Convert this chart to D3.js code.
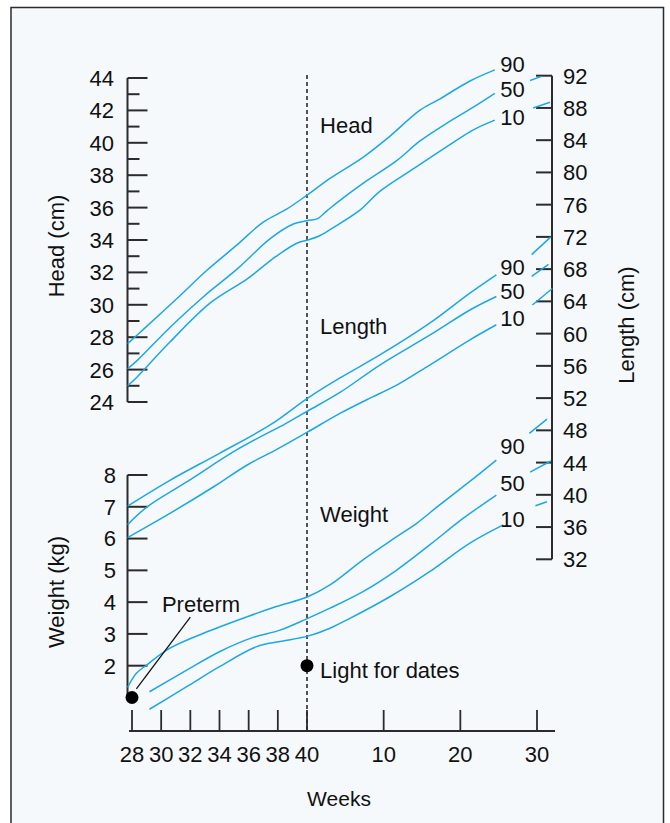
<!DOCTYPE html>
<html>
<head>
<meta charset="utf-8">
<script src="https://cdn.jsdelivr.net/npm/d3@7"></script>
<style>
  body { margin: 0; background: #ffffff; }
  text { font-family: "Liberation Sans", Arial, sans-serif; fill: #111111; }
</style>
</head>
<body>
<div id="chart"></div>
<script>
// week axis: 28..40 gestation, then 10/20/30 weeks after term (stored as 40 + n)
var weekTicks = [28, 30, 32, 34, 36, 38, 40, 50, 60, 70];
var weekLabels = ["28", "30", "32", "34", "36", "38", "40", "10", "20", "30"];
var headTicks = [24, 26, 28, 30, 32, 34, 36, 38, 40, 42, 44];
var headMinor = [25, 27, 29, 31, 33, 35, 37, 39, 41, 43];
var lengthTicks = [32, 36, 40, 44, 48, 52, 56, 60, 64, 68, 72, 76, 80, 84, 88, 92];
var weightTicks = [2, 3, 4, 5, 6, 7, 8];
var percentiles = ["90", "50", "10"];

// [week, cm]
var head90 = [[27.7, 27.6], [28.8, 28.5], [31.1, 30.4], [33.1, 32.1], [35.2, 33.7], [37.0, 35.1], [38.6, 35.9], [40.1, 36.8], [43.0, 37.8], [47.3, 39.1], [50.8, 40.4], [54.7, 42.0], [57.3, 42.7], [61.2, 43.8], [64.5, 44.5]];
var head50 = [[27.7, 26.05], [28.4, 26.6], [30.6, 28.6], [32.9, 30.5], [35.2, 32.2], [37.5, 34.1], [39.1, 35.0], [40.1, 35.2], [41.3, 35.3], [42.6, 35.8], [44.3, 36.45], [47.3, 37.5], [51.7, 38.9], [54.7, 40.1], [58.2, 41.2], [61.7, 42.2], [64.5, 43.05], [69.1, 43.85], [70.6, 44.1]];
var head10 = [[27.7, 25.0], [28.3, 25.5], [30.6, 27.7], [33.35, 30.1], [35.9, 31.6], [37.9, 33.0], [39.3, 33.8], [40.1, 34.0], [41.5, 34.23], [43.0, 34.64], [46.9, 35.84], [49.5, 37.0], [53.9, 38.4], [58.2, 39.75], [61.7, 40.8], [64.5, 41.4], [69.5, 42.15], [71.7, 42.5]];

var length90 = [[27.7, 38.6], [30.6, 41.8], [34.0, 45.15], [37.5, 48.7], [40.1, 52.0], [44.3, 54.5], [49.5, 57.35], [56.0, 61.3], [61.2, 65.0], [64.7, 67.3], [69.3, 69.8], [71.8, 72.0]];
var length50 = [[27.7, 36.3], [29.0, 38.45], [31.75, 41.6], [35.2, 45.6], [38.6, 48.9], [40.1, 50.4], [44.3, 52.7], [49.5, 56.1], [56.0, 59.8], [61.2, 62.9], [64.7, 64.6], [69.3, 67.1], [71.5, 68.6]];
var length10 = [[27.7, 34.7], [30.6, 37.7], [33.6, 41.0], [35.9, 43.7], [37.9, 45.6], [40.1, 47.8], [44.3, 50.1], [47.8, 51.8], [51.7, 53.6], [56.0, 56.1], [61.2, 59.2], [64.7, 61.1], [69.4, 63.55], [72.0, 65.6]];

// [week, kg]
var weight90 = [[27.7, 1.32], [28.3, 1.76], [29.0, 2.02], [30.6, 2.55], [32.9, 3.02], [35.9, 3.54], [37.9, 3.86], [40.1, 4.17], [43.0, 4.54], [47.3, 5.33], [51.7, 6.06], [54.3, 6.48], [57.3, 7.06], [61.2, 7.79], [64.7, 8.47], [69.0, 9.31], [71.3, 9.76]];
var weight50 = [[29.2, 1.18], [31.75, 1.86], [34.0, 2.44], [36.3, 2.89], [38.15, 3.12], [40.1, 3.49], [43.0, 3.81], [47.3, 4.33], [51.7, 5.01], [56.0, 5.80], [60.4, 6.64], [64.7, 7.37], [69.1, 8.09], [71.8, 8.44]];
var weight10 = [[29.2, 0.63], [31.75, 1.34], [34.0, 1.97], [36.55, 2.60], [38.15, 2.76], [40.1, 2.93], [43.0, 3.18], [45.6, 3.49], [50.8, 4.17], [56.0, 4.96], [61.2, 5.85], [65.6, 6.43], [69.8, 7.03], [71.3, 7.16]];

// percentile label values at the right end (week 66.8)
var headLabelVals = [44.87, 43.3, 41.6];
var lengthLabelVals = [68.3, 65.33, 61.9];
var weightLabelVals = [8.91, 7.76, 6.61];

// marked babies: [week, kg]
var preterm = [28, 1.0];
var lightForDates = [40, 2.0];
var pretermPointer = [[28.3, 1.27], [32.0, 3.53]];

var width = 670, height = 823;
var ink = "#2b2b2b", blue = "#1ea7e1", bg = "#f5f9fc";
var fs = "22px";

var svg = d3.select("#chart").append("svg")
  .attr("width", width).attr("height", height);

// frame
svg.append("rect")
  .attr("x", 11).attr("y", 7.5).attr("width", 652.5).attr("height", 830)
  .attr("fill", bg).attr("stroke", ink).attr("stroke-width", 1.5);

var x = d3.scaleLinear().domain([28, 40, 70]).range([132, 307, 537]);
var yHead = d3.scaleLinear().domain([24, 44]).range([402, 78]);
var yLen = d3.scaleLinear().domain([32, 92]).range([559.3, 75.7]);
var yW = d3.scaleLinear().domain([2, 8]).range([665.7, 475]);

var leftX = 127.5, rightX = 552, baseY = 731;

// dashed term line
svg.append("line")
  .attr("x1", x(40)).attr("x2", x(40))
  .attr("y1", 75).attr("y2", baseY)
  .attr("stroke", ink).attr("stroke-width", 1.6)
  .attr("stroke-dasharray", "4,3");

// head axis
var headAxis = svg.append("g");
headAxis.append("line")
  .attr("x1", leftX).attr("x2", leftX)
  .attr("y1", yHead(44)).attr("y2", yHead(24))
  .attr("stroke", ink).attr("stroke-width", 2);
headAxis.selectAll(".maj").data(headTicks).enter().append("line")
  .attr("x1", leftX).attr("x2", leftX + 20)
  .attr("y1", (d) => yHead(d)).attr("y2", (d) => yHead(d))
  .attr("stroke", ink).attr("stroke-width", 2);
headAxis.selectAll(".min").data(headMinor).enter().append("line")
  .attr("x1", leftX).attr("x2", leftX + 12)
  .attr("y1", (d) => yHead(d)).attr("y2", (d) => yHead(d))
  .attr("stroke", ink).attr("stroke-width", 2);
headAxis.selectAll("text").data(headTicks).enter().append("text")
  .attr("x", 114).attr("y", (d) => yHead(d)).attr("dy", "0.36em")
  .attr("text-anchor", "end").attr("font-size", fs)
  .text((d) => d);

// weight axis
var weightAxis = svg.append("g");
weightAxis.append("line")
  .attr("x1", leftX).attr("x2", leftX)
  .attr("y1", yW(8)).attr("y2", yW(1))
  .attr("stroke", ink).attr("stroke-width", 2);
weightAxis.selectAll(".maj").data(weightTicks).enter().append("line")
  .attr("x1", leftX).attr("x2", leftX + 20)
  .attr("y1", (d) => yW(d)).attr("y2", (d) => yW(d))
  .attr("stroke", ink).attr("stroke-width", 2);
weightAxis.selectAll("text").data(weightTicks).enter().append("text")
  .attr("x", 116).attr("y", (d) => yW(d)).attr("dy", "0.36em")
  .attr("text-anchor", "end").attr("font-size", fs)
  .text((d) => d);

// length axis
var lengthAxis = svg.append("g");
lengthAxis.append("line")
  .attr("x1", rightX).attr("x2", rightX)
  .attr("y1", yLen(92)).attr("y2", yLen(32))
  .attr("stroke", ink).attr("stroke-width", 2);
lengthAxis.selectAll(".maj").data(lengthTicks).enter().append("line")
  .attr("x1", rightX - 16).attr("x2", rightX)
  .attr("y1", (d) => yLen(d)).attr("y2", (d) => yLen(d))
  .attr("stroke", ink).attr("stroke-width", 2);
lengthAxis.selectAll("text").data(lengthTicks).enter().append("text")
  .attr("x", 563).attr("y", (d) => yLen(d)).attr("dy", "0.36em")
  .attr("text-anchor", "start").attr("font-size", fs)
  .text((d) => d);

// week axis
var weekAxis = svg.append("g");
weekAxis.append("line")
  .attr("x1", 129).attr("x2", 555)
  .attr("y1", baseY).attr("y2", baseY)
  .attr("stroke", ink).attr("stroke-width", 2);
weekAxis.selectAll(".tick").data(weekTicks).enter().append("line")
  .attr("x1", (d) => x(d)).attr("x2", (d) => x(d))
  .attr("y1", baseY).attr("y2", baseY - 21)
  .attr("stroke", ink).attr("stroke-width", 1.8);
weekAxis.selectAll("text").data(weekTicks).enter().append("text")
  .attr("x", (d) => x(d)).attr("y", 762)
  .attr("text-anchor", "middle").attr("font-size", fs)
  .text((d, i) => weekLabels[i]);

// axis titles
svg.append("text").attr("x", 339).attr("y", 806)
  .attr("text-anchor", "middle").attr("font-size", "21px").text("Weeks");
svg.append("text").attr("transform", "translate(64,246) rotate(-90)")
  .attr("text-anchor", "middle").attr("font-size", fs).text("Head (cm)");
svg.append("text").attr("transform", "translate(64,592) rotate(-90)")
  .attr("text-anchor", "middle").attr("font-size", fs).text("Weight (kg)");
svg.append("text").attr("transform", "translate(634,325) rotate(-90)")
  .attr("text-anchor", "middle").attr("font-size", fs).text("Length (cm)");

// percentile curves
var groups = [
  { name: "Head", y: yHead, curves: [head90, head50, head10], labels: headLabelVals, title: 41.1 },
  { name: "Length", y: yLen, curves: [length90, length50, length10], labels: lengthLabelVals, title: 60.95 },
  { name: "Weight", y: yW, curves: [weight90, weight50, weight10], labels: weightLabelVals, title: 6.77 },
];

groups.forEach(function (g) {
  var line = d3.line()
    .x((d) => x(d[0]))
    .y((d) => g.y(d[1]))
    .curve(d3.curveCatmullRom.alpha(0.5));

  g.curves.forEach(function (pts) {
    // break the curve where the percentile label sits
    var segs = [pts.filter((d) => d[0] <= 66), pts.filter((d) => d[0] >= 68)];
    segs.forEach(function (s) {
      if (s.length < 2) return;
      svg.append("path")
        .attr("d", line(s))
        .attr("fill", "none")
        .attr("stroke", blue)
        .attr("stroke-width", 1.5);
    });
  });

  svg.selectAll(null).data(g.labels).enter().append("text")
    .attr("x", x(66.8)).attr("y", (d) => g.y(d)).attr("dy", "0.36em")
    .attr("text-anchor", "middle").attr("font-size", fs)
    .text((d, i) => percentiles[i]);

  svg.append("text")
    .attr("x", x(41.7)).attr("y", g.y(g.title)).attr("dy", "0.36em")
    .attr("font-size", fs)
    .text(g.name);
});

// preterm and light-for-dates markers
svg.append("line")
  .attr("x1", x(pretermPointer[0][0])).attr("y1", yW(pretermPointer[0][1]))
  .attr("x2", x(pretermPointer[1][0])).attr("y2", yW(pretermPointer[1][1]))
  .attr("stroke", "#111").attr("stroke-width", 1.3);

svg.selectAll(".dot").data([preterm, lightForDates]).enter().append("circle")
  .attr("cx", (d) => x(d[0])).attr("cy", (d) => yW(d[1]))
  .attr("r", 6.5).attr("fill", "#000");

svg.append("text").attr("x", x(30.05)).attr("y", yW(3.95)).attr("dy", "0.36em")
  .attr("font-size", fs).text("Preterm");
svg.append("text").attr("x", x(41.7)).attr("y", yW(1.85)).attr("dy", "0.36em")
  .attr("font-size", fs).text("Light for dates");
</script>
</body>
</html>
